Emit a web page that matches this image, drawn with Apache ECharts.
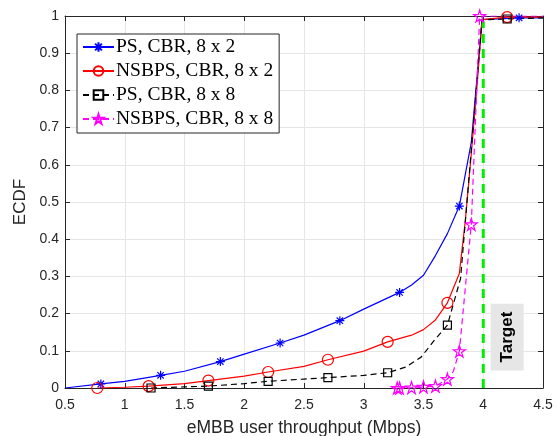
<!DOCTYPE html>
<html><head><meta charset="utf-8">
<script src="https://cdn.jsdelivr.net/npm/echarts/dist/echarts.min.js"></script>
<style>html,body{margin:0;padding:0;background:#fff}#c{width:557px;height:436px}</style>
</head><body><div id="c"></div>
<script>
// ---- data ----
const seriesNames = ['PS, CBR, 8 x 2', 'NSBPS, CBR, 8 x 2', 'PS, CBR, 8 x 8', 'NSBPS, CBR, 8 x 8'];

const ps82X = [0.5, 0.8, 1.0, 1.3, 1.5, 1.8, 2.0, 2.3, 2.5, 2.8, 3.0, 3.3, 3.4, 3.5, 3.6, 3.7, 3.8, 3.9, 3.99, 4.3, 4.5];
const ps82Y = [0, 0.011, 0.018, 0.034, 0.045, 0.071, 0.091, 0.121, 0.142, 0.181, 0.212, 0.257, 0.277, 0.303, 0.356, 0.415, 0.489, 0.66, 0.99, 0.995, 0.995];
const ps82Marks = [1, 3, 5, 7, 9, 11, 16, 19];

const nsb82X = [0.77, 1.0, 1.2, 1.5, 1.7, 2.0, 2.2, 2.5, 2.7, 3.0, 3.2, 3.4, 3.5, 3.6, 3.7, 3.8, 3.85, 3.9, 3.95, 3.99, 4.2, 4.5];
const nsb82Y = [0, 0.002, 0.005, 0.012, 0.02, 0.032, 0.043, 0.058, 0.076, 0.099, 0.124, 0.142, 0.157, 0.183, 0.229, 0.308, 0.45, 0.63, 0.82, 0.99, 0.997, 0.997];
const nsb82Marks = [0, 2, 4, 6, 8, 10, 14, 20];

const ps88X = [1.22, 1.5, 1.7, 2.0, 2.2, 2.5, 2.7, 3.0, 3.2, 3.35, 3.48, 3.59, 3.7, 3.81, 3.9, 3.99, 4.2, 4.5];
const ps88Y = [0, 0.003, 0.005, 0.012, 0.018, 0.024, 0.028, 0.034, 0.041, 0.056, 0.083, 0.128, 0.169, 0.294, 0.64, 0.99, 0.992, 0.995];
const ps88Marks = [0, 2, 4, 6, 8, 12, 16];

const nsb88X = [3.28, 3.3, 3.4, 3.5, 3.6, 3.7, 3.75, 3.8, 3.9, 3.97, 4.5];
const nsb88Y = [0, 0, 0.001, 0.003, 0.005, 0.024, 0.045, 0.099, 0.44, 1.0, 1.0];
const nsb88Marks = [0, 1, 2, 3, 4, 5, 7, 8, 9];

const targetX = [4, 4];
const targetY = [0, 0.985];
const targetLabel = 'Target';
const targetLabelPos = [4.2, 0.137];

const xTicks = {min: 0.5, max: 4.5, step: 0.5};
const yTicks = {min: 0, max: 1, step: 0.1};

// ---- chart ----
function build(xs, ys, marks) {
  return xs.map((x, i) => {
    const d = {value: [x, ys[i]]};
    if (marks.indexOf(i) < 0) d.symbol = 'none';
    return d;
  });
}
function starPath() {
  let s = 'path://';
  for (let i = 0; i < 10; i++) {
    const r = i % 2 === 0 ? 10 : 3.82;
    const a = -Math.PI / 2 + i * Math.PI / 5;
    s += (i === 0 ? 'M' : 'L') + (r * Math.cos(a)).toFixed(3) + ',' + (r * Math.sin(a)).toFixed(3);
  }
  return s + 'Z';
}
const asterisk = 'path://M0,-10L0,10M-10,0L10,0M-7.07,-7.07L7.07,7.07M-7.07,7.07L7.07,-7.07';
const circle = 'path://M10,0A10,10,0,1,1,-10,0A10,10,0,1,1,10,0Z';
const square = 'path://M-10,-10L10,-10L10,10L-10,10Z';

const axisCol = '#262626';
const gridCol = '#e6e6e6';
const sans = '"Liberation Sans", Arial, sans-serif';

function mkSeries(name, data, color, dash, sym, size) {
  return {
    name: name, type: 'line', data: data, showAllSymbol: true,
    symbol: sym, symbolSize: size, animation: false,
    lineStyle: {color: color, width: 1.2, type: dash},
    itemStyle: {color: 'rgba(0,0,0,0)', borderColor: color, borderWidth: 1.2},
    emphasis: {disabled: true}
  };
}

const chart = echarts.init(document.getElementById('c'), null, {renderer: 'canvas'});
const baseX = {
  type: 'value', min: xTicks.min, max: xTicks.max, interval: xTicks.step,
  axisLine: {show: true, onZero: false, lineStyle: {color: axisCol, width: 1}},
  axisTick: {show: true, inside: true, length: 5, lineStyle: {color: axisCol}},
  splitLine: {show: false}
};
const baseY = {
  type: 'value', min: yTicks.min, max: yTicks.max, interval: yTicks.step,
  axisLine: {show: true, onZero: false, lineStyle: {color: axisCol, width: 1}},
  axisTick: {show: true, inside: true, length: 5, lineStyle: {color: axisCol}},
  splitLine: {show: false}
};
chart.setOption({
  animation: false,
  backgroundColor: '#fff',
  grid: {left: 65, right: 14, top: 16, bottom: 48, containLabel: false, outerBoundsMode: 'none'},
  xAxis: [
    Object.assign({}, baseX, {
      position: 'bottom',
      name: 'eMBB user throughput (Mbps)', nameLocation: 'middle', nameGap: 31,
      nameTextStyle: {fontFamily: sans, fontSize: 17.5, color: axisCol},
      axisLabel: {fontFamily: sans, fontSize: 14, color: axisCol, margin: 10},
      splitLine: {show: true, lineStyle: {color: gridCol, width: 1}}
    }),
    Object.assign({}, baseX, {position: 'top', axisLabel: {show: false}})
  ],
  yAxis: [
    Object.assign({}, baseY, {
      position: 'left',
      name: 'ECDF', nameLocation: 'middle', nameGap: 35,
      nameTextStyle: {fontFamily: sans, fontSize: 17, color: axisCol},
      axisLabel: {fontFamily: sans, fontSize: 14, color: axisCol, margin: 6},
      splitLine: {show: true, lineStyle: {color: gridCol, width: 1}}
    }),
    Object.assign({}, baseY, {position: 'right', axisLabel: {show: false}})
  ],
  legend: {
    show: true, orient: 'vertical', left: 77, top: 34,
    data: seriesNames,
    padding: [3, 6, 4, 5], itemGap: 4, itemWidth: 31, itemHeight: 12,
    backgroundColor: '#fff', borderColor: axisCol, borderWidth: 1,
    textStyle: {fontFamily: '"Liberation Serif", "Times New Roman", serif', fontSize: 19.5, lineHeight: 18, color: '#000', padding: [0, 0, 0, -3]},
    selectedMode: false
  },
  series: [
    mkSeries(seriesNames[0], build(ps82X, ps82Y, ps82Marks), '#0000ff', 'solid', asterisk, 9),
    mkSeries(seriesNames[1], build(nsb82X, nsb82Y, nsb82Marks), '#ff0000', 'solid', circle, 11),
    mkSeries(seriesNames[2], build(ps88X, ps88Y, ps88Marks), '#000000', [6, 4], square, 8),
    mkSeries(seriesNames[3], build(nsb88X, nsb88Y, nsb88Marks), '#ff00ff', [6, 4], starPath(), 12),
    {
      name: 'target', type: 'line', symbol: 'none', animation: false,
      data: targetX.map((x, i) => [x, targetY[i]]),
      lineStyle: {color: '#00ee00', width: 3, type: [9, 6]},
      emphasis: {disabled: true}, z: 3
    }
  ]
});
const p = chart.convertToPixel({xAxisIndex: 0, yAxisIndex: 0}, targetLabelPos);
chart.setOption({
  graphic: [{
    type: 'text', x: p[0], y: p[1], rotation: Math.PI / 2, z: 100,
    style: {
      text: targetLabel, font: 'bold 17px ' + sans, fill: '#000',
      align: 'center', verticalAlign: 'middle',
      backgroundColor: '#e6e6e6', padding: [9, 8, 7, 8]
    }
  }]
});
</script>
</body></html>
